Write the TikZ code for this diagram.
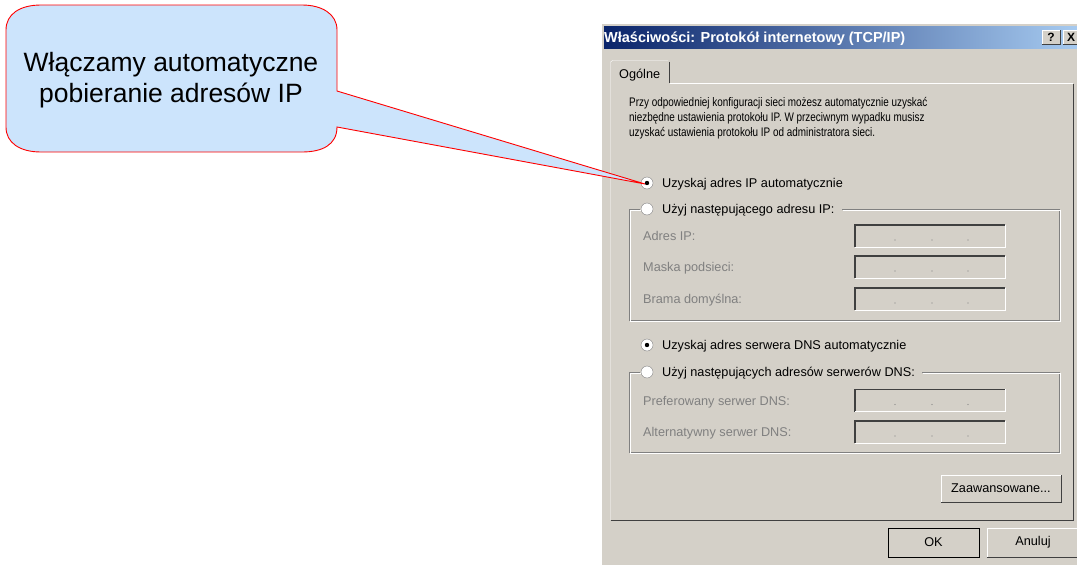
\documentclass[tikz,border=0pt]{standalone}
\usepackage{fontspec}
\setmainfont{Liberation Sans}
\newfontfamily\narrowfont[FakeStretch=0.8]{Liberation Sans}

\definecolor{winface}{RGB}{212,208,200}
\definecolor{winshadow}{RGB}{128,128,128}
\definecolor{windark}{RGB}{64,64,64}
\definecolor{calloutfill}{RGB}{204,228,252}
\definecolor{titledark}{RGB}{10,36,106}
\definecolor{titlelight}{RGB}{166,202,240}

\tikzset{
    dlgtext/.style={anchor=base west, inner sep=0pt, font=\fontsize{12.7}{14}\selectfont},
    graytext/.style={dlgtext, text=winshadow},
    radiobtn/.style={circle, draw=winshadow, fill=white, minimum size=12pt, inner sep=0pt},
    ipfield/.style={rectangle, fill=winface, minimum width=150pt, minimum height=22pt, inner sep=0pt},
    pushbtn/.style={rectangle, fill=winface, inner sep=0pt, font=\fontsize{12.7}{14}\selectfont},
    etched/.style={line width=1pt},
    callout/.style={draw=red, fill=calloutfill, line width=0.9pt, line join=miter}
}

\newcommand{\raisedbox}[1]{%
    \draw[white] (#1.south west) |- (#1.north east);
    \draw[windark] (#1.south west) -| (#1.north east);
}
\newcommand{\sunkenbox}[1]{%
    \draw[windark, line width=1.6pt] (#1.south west) |- (#1.north east);
    \draw[white, line width=1.2pt] (#1.south west) -| (#1.north east);
}

\begin{document}
\begin{tikzpicture}[x=1pt, y=-1pt]
    \useasboundingbox (0,0) rectangle (1077,565);

    % okno dialogowe
    \fill[winface] (601,23) rectangle (1077,565);
    \draw[white] (601.5,565) -- (601.5,23.5) -- (1077,23.5);
    \shade[left color=titledark, right color=titlelight] (604,26) rectangle (1077,48);
    \node[anchor=base west, inner sep=0pt, text=white, font=\bfseries\fontsize{14.5}{16}\selectfont]
        (title) at (604,42) {Właściwości: Protokół internetowy (TCP/IP)};
    \node[pushbtn, minimum width=17pt, minimum height=14pt, font=\bfseries\fontsize{12}{12}\selectfont] (help) at (1051,37) {?};
    \node[pushbtn, minimum width=16pt, minimum height=14pt, font=\bfseries\fontsize{12}{12}\selectfont] (close) at (1071,37) {X};
    \raisedbox{help}
    \raisedbox{close}

    % zakladka
    \draw[white] (610.5,520) -- (610.5,62) -- (612.5,60.5) -- (668,60.5);
    \draw[windark] (669.5,61.5) -- (669.5,83);
    \draw[white] (670,83.5) -- (1073,83.5);
    \draw[windark] (610.5,520) -- (1073.5,520) -- (1073.5,83.5);
    \node[dlgtext] (tab) at (619,78) {Ogólne};

    % opis
    \foreach \i/\txt in {0/Przy odpowiedniej konfiguracji sieci możesz automatycznie uzyskać,
        1/niezbędne ustawienia protokołu IP. W przeciwnym wypadku musisz,
        2/uzyskać ustawienia protokołu IP od administratora sieci.}
        \node[dlgtext, font=\narrowfont\fontsize{12.4}{14}\selectfont] (info\i) at (629,106+15*\i) {\txt};

    % ramki grup
    \foreach \c/\s in {winshadow/0, white/1} {
        \draw[\c, etched, shift={(\s,\s)}] (842,209.5) -| (1059.5,320.5) -| (629.5,209.5) -- (640,209.5);
        \draw[\c, etched, shift={(\s,\s)}] (922,372.5) -| (1059.5,452.5) -| (629.5,372.5) -- (640,372.5);
    }

    % przyciski opcji
    \node[radiobtn] (ipauto) at (647,183) {};
    \node[radiobtn] (ipmanual) at (647,209) {};
    \node[radiobtn] (dnsauto) at (647,345) {};
    \node[radiobtn] (dnsmanual) at (647,372) {};
    \fill (ipauto) circle (2.2);
    \fill (dnsauto) circle (2.2);
    \node[dlgtext] (ipautotxt) at (662,187.5) {Uzyskaj adres IP automatycznie};
    \node[dlgtext] (ipmanualtxt) at (662,213.5) {Użyj następującego adresu IP:};
    \node[dlgtext] (dnsautotxt) at (662,349.5) {Uzyskaj adres serwera DNS automatycznie};
    \node[dlgtext] (dnsmanualtxt) at (662,376.5) {Użyj następujących adresów serwerów DNS:};

    % pola adresow
    \foreach \n/\y/\txt in {ipaddr/236/Adres IP:, mask/267/Maska podsieci:, gateway/299/Brama domyślna:,
        dnsone/400.5/Preferowany serwer DNS:, dnstwo/432/Alternatywny serwer DNS:} {
        \node[graytext] (\n txt) at (643,\y+4.5) {\txt};
        \node[ipfield] (\n) at (930,\y) {};
        \sunkenbox{\n}
        \foreach \dx in {895,932,968}
            \fill[winshadow] (\dx,\y+4) circle (0.7);
    }

    % przyciski
    \node[pushbtn, minimum width=120pt, minimum height=27pt] (advanced) at (1001,488.5) {Zaawansowane...};
    \raisedbox{advanced}
    \node[pushbtn, minimum width=91pt, minimum height=29pt] (ok) at (933.5,542.5) {OK};
    \raisedbox{ok}
    \draw[black] (ok.south west) rectangle (ok.north east);
    \node[pushbtn, minimum width=92pt, minimum height=29pt] (cancel) at (1033,542.5) {Anuluj};
    \raisedbox{cancel}

    % dymek
    \coordinate (tip) at ([shift={(-2,1)}]ipauto.center);
    \draw[callout] (337,127) .. controls (337,145) and (322,152) .. (302,152) -- (41,152)
        .. controls (20,152) and (6,143) .. (6,127) -- (6,30)
        .. controls (6,14) and (20,5) .. (41,5) -- (302,5)
        .. controls (322,5) and (337,14) .. (337,30) -- (337,91) -- (tip) -- cycle;
    \node[align=center, inner sep=0pt, font=\fontsize{26.5}{31}\selectfont] (note) at (171,80)
        {Włączamy automatyczne\\pobieranie adresów IP};

\end{tikzpicture}
\end{document}
